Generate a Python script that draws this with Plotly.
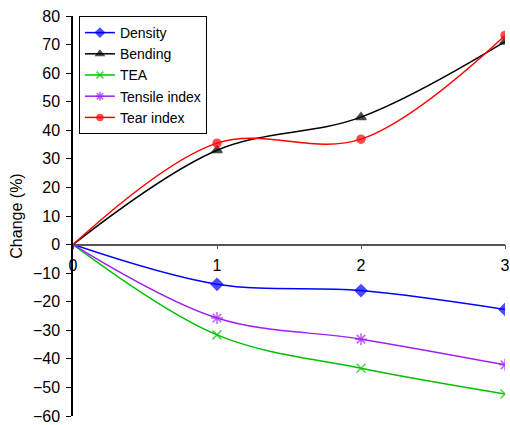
import plotly.graph_objects as go

x_vals = [0, 1, 2, 3]
density = [0, -13.9, -16.1, -22.7]
bending = [0, 33.0, 44.6, 71.0]
tea = [0, -31.6, -43.3, -52.3]
tensile = [0, -25.7, -33.1, -42.1]
tear = [0, 35.5, 36.9, 73.2]

series = [
    ("Density", density, "#0000ff", "diamond", 9),
    ("Bending", bending, "#000000", "triangle-up", 9),
    ("TEA", tea, "#00c000", "x-thin-open", 9),
    ("Tensile index", tensile, "#a020f0", "asterisk-open", 10),
    ("Tear index", tear, "#ff0000", "circle", 8),
]

fig = go.Figure()
for name, ys, col, sym, sz in series:
    sizes = [0] + [sz] * (len(ys) - 1)
    fig.add_trace(go.Scatter(
        x=x_vals, y=ys, name=name, mode="lines+markers",
        line=dict(color=col, width=1.5, shape="spline", smoothing=1),
        marker=dict(symbol=sym, size=sizes, color=col, line=dict(color=col, width=1.5)),
    ))

font_family = "Liberation Sans, Arial, sans-serif"
fig.update_layout(
    width=510, height=425,
    margin=dict(l=73, r=0, t=16, b=9),
    paper_bgcolor="white", plot_bgcolor="white",
    font=dict(family=font_family, size=15, color="black"),
    showlegend=True,
    legend=dict(
        x=0.0137, y=1, xanchor="left", yanchor="top",
        bordercolor="black", borderwidth=1, bgcolor="white",
        font=dict(size=14), tracegroupgap=0,
    ),
    xaxis=dict(
        range=[0, 3], tickvals=x_vals, ticktext=[str(v) for v in x_vals],
        showgrid=False, zeroline=False,
        showline=True, linecolor="#555555", linewidth=1.5,
        ticks="outside", ticklen=4, tickcolor="#555555",
        anchor="free", position=60 / 140,
        ticklabelstandoff=2, ticklabeloverflow="allow",
        tickfont=dict(size=16),
    ),
    yaxis=dict(
        range=[-60, 80], tickvals=list(range(-60, 81, 10)),
        showgrid=False, zeroline=False,
        showline=True, linecolor="black", linewidth=1.5,
        ticks="outside", ticklen=5, tickcolor="black",
        tickfont=dict(size=16),
        title=dict(text="Change (%)", standoff=6, font=dict(size=16)),
        ticklabelstandoff=3,
    ),
)

fig.write_html("out.html")
